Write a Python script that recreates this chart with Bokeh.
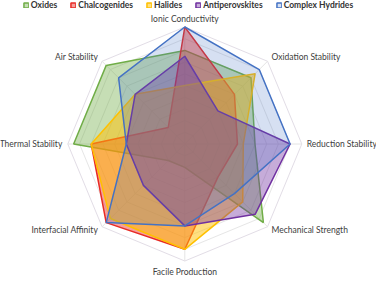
import math
from bokeh.plotting import figure
from bokeh.models import Range1d
from bokeh.embed import file_html
from bokeh.resources import INLINE
from bokeh.core.properties import value

# ---------------- data ----------------
axis_labels = ["Ionic Conductivity", "Oxidation Stability", "Reduction Stability",
               "Mechanical Strength", "Facile Production", "Interfacial Affinity",
               "Thermal Stability", "Air Stability"]
series_names = ["Oxides", "Chalcogenides", "Halides", "Antiperovskites", "Complex Hydrides"]
oxides = [8, 8, 6, 9.5, 2, 2, 9.5, 9.5]
chalcogenides = [10, 6, 4.5, 4, 9, 9.5, 8, 2]
halides = [5, 8.5, 5, 7, 9, 9, 8, 6]
antiperovskites = [7.5, 4, 9, 8.5, 7, 5, 5, 6]
complex_hydrides = [10, 9, 9, 6, 7, 9.5, 5, 8]
ring_levels = [1, 2, 3, 4, 5, 6, 7, 8, 9, 10]
axis_max = 10

series_values = [oxides, chalcogenides, halides, antiperovskites, complex_hydrides]
series_colors = ["#70AD47", "#E82A24", "#FFC000", "#7030A0", "#4472C4"]
series_alpha = [0.4, 0.45, 0.5, 0.4, 0.22]

# ---------------- layout ----------------
W, H = 376, 279
R = 117.0                 # pixel radius of outer ring
s = R / axis_max          # px per unit
cx, cy = 184.3, 143.5     # centre in canvas px (y from top)

p = figure(width=W, height=H, output_backend="svg", toolbar_location=None,
           x_range=Range1d(-cx / s, (W - cx) / s),
           y_range=Range1d(-(H - cy) / s, cy / s),
           min_border=0)
p.axis.visible = False
p.grid.visible = False
p.outline_line_color = None
p.background_fill_color = "white"

n = len(axis_labels)
ang = [math.pi / 2 - k * 2 * math.pi / n for k in range(n)]


def poly(vals):
    xs = [v * math.cos(a) for v, a in zip(vals, ang)]
    ys = [v * math.sin(a) for v, a in zip(vals, ang)]
    return xs, ys


# grid rings
for lv in ring_levels:
    xs, ys = poly([lv] * n)
    p.line(xs + xs[:1], ys + ys[:1], line_color="#E2DDE6" if lv == axis_max else "#E6E6E6",
           line_width=1)
# spokes
for a in ang:
    p.line([0, axis_max * math.cos(a)], [0, axis_max * math.sin(a)],
           line_color="#E4E4E4", line_width=1)

# series
for name, vals, col, al in zip(series_names, series_values, series_colors, series_alpha):
    xs, ys = poly(vals)
    p.patch(xs, ys, fill_color=col, fill_alpha=al, line_color=col, line_width=1.5,
            legend_label=name)

# axis labels
offsets = [(0, -8.5, "center"), (4, -4, "left"), (5, 0, "left"), (4, 3, "left"),
           (0, 11, "center"), (-4, 3.5, "right"), (-5.5, 0, "right"), (-4, -4, "right")]
for lab, a, (dx, dy, al) in zip(axis_labels, ang, offsets):
    p.text(x=[axis_max * math.cos(a)], y=[axis_max * math.sin(a)], text=[lab],
           x_offset=dx, y_offset=dy, text_align=al, text_baseline="middle",
           text_font=value("Lato"), text_font_size="8.5px", text_color="#404040")

leg = p.legend[0]
leg.orientation = "horizontal"
leg.location = "top_center"
leg.margin = 0
leg.padding = 0
leg.spacing = 13
leg.label_standoff = 2
leg.glyph_width = 6
leg.glyph_height = 6
leg.label_height = 9
leg.label_width = 10
leg.label_text_font = "Lato"
leg.label_text_font_size = "8.5px"
leg.label_text_font_style = "bold"
leg.label_text_color = "#333333"
leg.background_fill_alpha = 0
leg.border_line_alpha = 0

open("out.html", "w").write(file_html(p, INLINE))
